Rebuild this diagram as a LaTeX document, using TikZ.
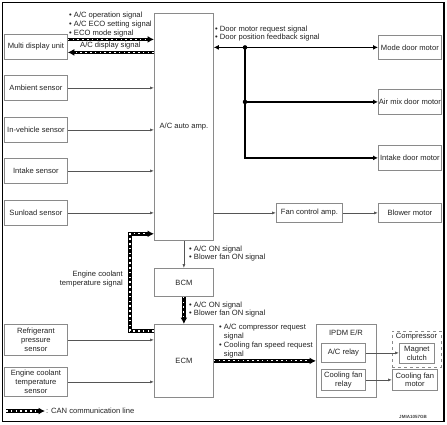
\documentclass[tikz,border=0pt]{standalone}
\usepackage{fontspec}
\setmainfont{Liberation Sans}
\usetikzlibrary{arrows.meta,calc}
\definecolor{boxgray}{HTML}{8A8A8A}
\definecolor{linegray}{HTML}{555555}
\definecolor{txt}{HTML}{222222}
\begin{document}
\begin{tikzpicture}[x=1pt,y=-1pt,
  every node/.style={font=\fontsize{7.6}{8.7}\selectfont,text=txt,inner sep=0pt},
  box/.style={draw=boxgray,line width=0.8pt,anchor=north west,align=center},
  lbl/.style={align=left,anchor=west},
  sig/.style={draw=linegray,line width=0.6pt,-{Latex[length=4pt,width=3pt]}},
  door/.style={draw=black,line width=1.6pt},
  can/.style={draw=black,line width=3.4pt,-{Latex[length=6.5pt,width=7pt]},
    postaction={draw=white,line width=1.1pt,dash pattern=on 1.6pt off 3.2pt,-,shorten >=7pt}},
  dot/.style={circle,fill=black,minimum size=4.5pt}]
\useasboundingbox (0,0) rectangle (447,424);
\draw[line width=1.1pt] (2.5,2.5) rectangle (444,421.5);

% left column
\node[box,minimum width=63pt,minimum height=25pt] (mdu) at (4,34) {Multi display unit};
\node[box,minimum width=63pt,minimum height=25pt] (amb) at (4,75) {Ambient sensor};
\node[box,minimum width=63pt,minimum height=25pt] (inv) at (4,117) {In-vehicle sensor};
\node[box,minimum width=63pt,minimum height=25pt] (ints) at (4,158) {Intake sensor};
\node[box,minimum width=63pt,minimum height=25pt] (sun) at (4,200) {Sunload sensor};
\node[box,minimum width=63pt,minimum height=31pt] (ref) at (4,324) {Refrigerant\\pressure\\sensor};
\node[box,minimum width=63pt,minimum height=29pt] (ect) at (4,367) {Engine coolant\\temperature\\sensor};

% centre column
\node[box,minimum width=59pt,minimum height=227pt] (amp) at (154,13) {A/C auto amp.};
\node[box,minimum width=59pt,minimum height=28pt] (bcm) at (154,268) {BCM};
\node[box,minimum width=59pt,minimum height=73pt] (ecm) at (154,324) {ECM};

% right column
\node[box,minimum width=63pt,minimum height=24pt] (mode) at (378,35) {Mode door motor};
\node[box,minimum width=63pt,minimum height=25pt] (air) at (378,89) {Air mix door motor};
\node[box,minimum width=63pt,minimum height=25pt] (idm) at (378,145) {Intake door motor};
\node[box,minimum width=66pt,minimum height=19pt] (fan) at (276,203) {Fan control amp.};
\node[box,minimum width=63pt,minimum height=19pt] (blow) at (378,203) {Blower motor};

% IPDM
\node[box,minimum width=60pt,minimum height=73pt] (ipdm) at (316,324) {};
\node (ipdmt) at (346,333) {IPDM E/R};
\node[box,minimum width=44pt,minimum height=19pt] (acr) at (321,343) {A/C relay};
\node[box,minimum width=44pt,minimum height=21pt] (cfr) at (321,369) {Cooling fan\\relay};
\node[box,dashed,minimum width=49pt,minimum height=36pt] (comp) at (392,331) {};
\node (compt) at (416.5,337) {Compressor};
\node[box,minimum width=35pt,minimum height=20pt] (mag) at (399,343) {Magnet\\clutch};
\node[box,minimum width=45pt,minimum height=21pt] (cfm) at (392,369) {Cooling fan\\motor};

% sensor signals
\draw[sig] (amb.east) -- (amb.east -| amp.west);
\draw[sig] (inv.east) -- (inv.east -| amp.west);
\draw[sig] (ints.east) -- (ints.east -| amp.west);
\draw[sig] (sun.east) -- (sun.east -| amp.west);
\draw[sig] (ref.east) -- (ref.east -| ecm.west);
\draw[sig] (ect.east) -- (ect.east -| ecm.west);
\draw[sig] (amp.south) -- (bcm.north);
\draw[sig] (fan.west -| amp.east) -- (fan.west);
\draw[sig] (fan.east) -- (blow.west);
\draw[sig] (acr.east) -- (acr.east -| mag.west);
\draw[sig] (cfr.east) -- (cfr.east -| cfm.west);

% CAN lines
\draw[can] ([yshift=7.5pt]mdu.east) -- ([yshift=7.5pt]mdu.east -| amp.west);
\draw[can] ([yshift=-5.5pt]mdu.east -| amp.west) -- ([yshift=-5.5pt]mdu.east);
\draw[can] (bcm.south) -- (ecm.north);
\draw[can] ([yshift=-7pt]ecm.north west) -- ++(-24,0) |- ([yshift=7pt]amp.south west);
\draw[can] (ecm.east) -- (ecm.east -| ipdm.west);

% door motors
\coordinate (j1) at (245,0 |- mode.west);
\coordinate (j2) at (245,0 |- air.west);
\draw[door,{Latex[length=5pt,width=5pt]}-{Latex[length=5pt,width=5pt]}] (mode.west -| amp.east) -- (mode.west);
\draw[door,-{Latex[length=5pt,width=5pt]}] (j2) -- (air.west);
\draw[door,-{Latex[length=5pt,width=5pt]}] (j1) |- (idm.west);
\node[dot] (d1) at (j1) {};
\node[dot] (d2) at (j2) {};

% labels
\node[lbl] (l1) at (69,24.5) {• A/C operation signal\\• A/C ECO setting signal\\• ECO mode signal};
\node[lbl] (l2) at (80,45.5) {A/C display signal};
\node[lbl] (l3) at (215,33.5) {• Door motor request signal\\• Door position feedback signal};
\node[align=right,anchor=east] (l4) at (123,279) {Engine coolant\\temperature signal};
\node[lbl] (l5) at (189,253.5) {• A/C ON signal\\• Blower fan ON signal};
\node[lbl] (l6) at (189,309.5) {• A/C ON signal\\• Blower fan ON signal};
\node[lbl] (l7) at (219,341) {• A/C compressor request\\\phantom{• }signal\\• Cooling fan speed request\\\phantom{• }signal};

% legend
\coordinate (lg1) at (6,411);
\coordinate (lg2) at (45,411);
\draw[can] (lg1) -- (lg2);
\node[lbl] (lgt) at (46,411) {: CAN communication line};
\node[font=\fontsize{4.5}{5}\selectfont\bfseries,text=black!75] (code) at (413,417) {JMIA1057GB};
\end{tikzpicture}
\end{document}
